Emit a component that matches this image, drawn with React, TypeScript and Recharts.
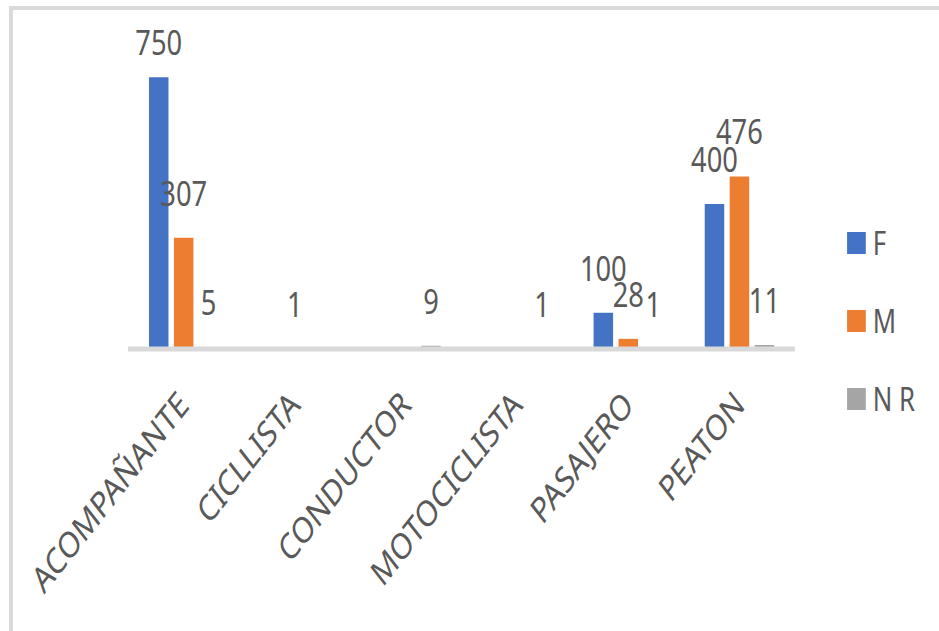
import React from 'react';
import { BarChart, Bar, XAxis, YAxis, Legend, LabelList } from 'recharts';

// Victim type by sex
const categories = ['ACOMPAÑANTE', 'CICLLISTA', 'CONDUCTOR', 'MOTOCICLISTA', 'PASAJERO', 'PEATON'];
const femenino: (number | null)[] = [750, null, null, null, 100, 400];
const masculino: (number | null)[] = [307, 1, null, null, 28, 476];
const noRegistra: (number | null)[] = [5, null, 9, 1, 1, 11];
const seriesNames = ['F', 'M', 'N R'];
const seriesColors = ['#4472C4', '#ED7D31', '#A5A5A5'];

const data = categories.map((cat, i) => ({
  cat,
  F: femenino[i],
  M: masculino[i],
  NR: noRegistra[i],
}));

// The whole drawing is laid out wide, then squeezed horizontally.
const SQUEEZE = 0.78;
const CHART_W = 1204;
const CHART_H = 631;
const AXIS_H = 282;
const PLOT_BOTTOM = CHART_H - AXIS_H;
const FONT = '"Noto Sans", "Open Sans", sans-serif';
const TEXT = '#595959';

const AxisTick = (props: any) => {
  const { x, payload } = props;
  return (
    <g transform={`translate(${x + 9},${PLOT_BOTTOM + 58})`}>
      <text transform="rotate(-45)" textAnchor="end" fill={TEXT} fontSize={36} fontFamily={FONT}>
        {payload.value}
      </text>
    </g>
  );
};

const ValueLabel = (props: any) => {
  const { x, y, width, value } = props;
  if (value === null || value === undefined) return null;
  const baseline = Math.max(Number(y) - 32, 55);
  return (
    <text x={Number(x) + Number(width) / 2} y={baseline} textAnchor="middle" fill={TEXT} fontSize={35} fontFamily={FONT}>
      {value}
    </text>
  );
};

const LegendBox = (props: any) => {
  const { payload } = props;
  return (
    <div style={{ fontFamily: FONT }}>
      {(payload || []).map((entry: any, i: number) => (
        <div key={i} style={{ display: 'flex', alignItems: 'center', height: 22, marginBottom: 56 }}>
          <div style={{ width: 24, height: 22, background: entry.color }} />
          <span style={{ marginLeft: 9, fontSize: 33, lineHeight: '22px', color: TEXT, whiteSpace: 'pre' }}>
            {entry.value}
          </span>
        </div>
      ))}
    </div>
  );
};

export default function App() {
  return (
    <div style={{ position: 'absolute', left: 0, top: 0, width: 939, height: 631, overflow: 'hidden', background: '#fff' }}>
      <div
        style={{
          position: 'absolute',
          left: 9,
          top: 6,
          width: 926,
          height: 621,
          borderTop: '4px solid #dadada',
          borderLeft: '4px solid #dadada',
        }}
      />
      <div style={{ position: 'absolute', left: 0, top: 0, width: CHART_W, height: CHART_H, transform: `scaleX(${SQUEEZE})`, transformOrigin: '0 0' }}>
        <BarChart
          width={CHART_W}
          height={CHART_H}
          data={data}
          margin={{ top: 59, right: 185, bottom: 0, left: 164 }}
          barSize={25}
          barGap={7}
        >
          <YAxis hide domain={[0, 800]} />
          <Bar dataKey="F" name={seriesNames[0]} fill={seriesColors[0]} isAnimationActive={false}>
            <LabelList dataKey="F" content={ValueLabel} />
          </Bar>
          <Bar dataKey="M" name={seriesNames[1]} fill={seriesColors[1]} isAnimationActive={false}>
            <LabelList dataKey="M" content={ValueLabel} />
          </Bar>
          <Bar dataKey="NR" name={seriesNames[2]} fill={seriesColors[2]} isAnimationActive={false}>
            <LabelList dataKey="NR" content={ValueLabel} />
          </Bar>
          <XAxis
            dataKey="cat"
            height={AXIS_H}
            interval={0}
            tickLine={false}
            axisLine={{ stroke: '#d9d9d9', strokeWidth: 5 }}
            tick={AxisTick}
          />
          <Legend
            layout="vertical"
            align="center"
            verticalAlign="middle"
            content={LegendBox}
            wrapperStyle={{ position: 'absolute', left: 1086, top: 232, width: 150, height: 200 }}
          />
        </BarChart>
      </div>
    </div>
  );
}
